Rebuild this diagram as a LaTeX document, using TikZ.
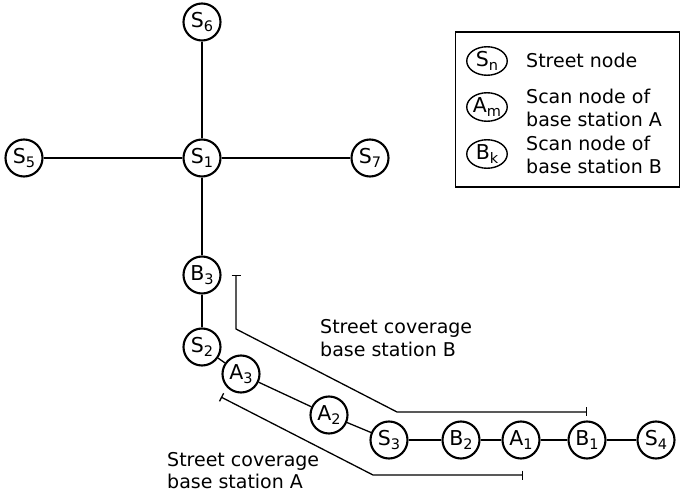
\documentclass[tikz,border=0pt]{standalone}
\usepackage{fontspec}
\setmainfont{DejaVu Sans}
\usetikzlibrary{arrows.meta,shapes.geometric}
% letter with a lowered, smaller index
\newcommand\idxlbl[2]{#1\raisebox{-4pt}{\fontsize{14.5}{14.5}\selectfont #2}}

\begin{document}
\begin{tikzpicture}[x=1pt,y=-1pt,
  stnode/.style={circle, draw, line width=2.1pt, minimum size=37pt, inner sep=0pt,
    font=\fontsize{20.5}{24}\selectfont},
  legsym/.style={ellipse, draw, line width=1.4pt, minimum width=40.5pt, minimum height=28.5pt,
    inner sep=0pt, font=\fontsize{20.5}{24}\selectfont},
  link/.style={line width=1.3pt},
  cover/.style={line width=1.3pt, {Bar[width=9pt]}-{Bar[width=9pt]}},
  % anchored at the baseline of the last line
  txt/.style={inner sep=0pt, anchor=base west, align=left,
    font=\fontsize{19}{23}\selectfont},
]
\useasboundingbox (0,0) rectangle (681,497);

% street graph
\node[stnode] (S6) at (202,22)  {\idxlbl{S}{6}};
\node[stnode] (S1) at (202,158) {\idxlbl{S}{1}};
\node[stnode] (S5) at (24,158)  {\idxlbl{S}{5}};
\node[stnode] (S7) at (370,158) {\idxlbl{S}{7}};
\node[stnode] (B3) at (202,275) {\idxlbl{B}{3}};
\node[stnode] (S2) at (202,347) {\idxlbl{S}{2}};
\node[stnode] (A3) at (241,374) {\idxlbl{A}{3}};
\node[stnode] (A2) at (329,415) {\idxlbl{A}{2}};
\node[stnode] (S3) at (389,440) {\idxlbl{S}{3}};
\node[stnode] (B2) at (461,440) {\idxlbl{B}{2}};
\node[stnode] (A1) at (521,440) {\idxlbl{A}{1}};
\node[stnode] (B1) at (587,440) {\idxlbl{B}{1}};
\node[stnode] (S4) at (656,440) {\idxlbl{S}{4}};

\draw[link] (S6) -- (S1);
\draw[link] (S5) -- (S1);
\draw[link] (S1) -- (S7);
\draw[link] (S1) -- (B3);
\draw[link] (B3) -- (S2);
\draw[link] (S2) -- (A3);
\draw[link] (A3) -- (A2);
\draw[link] (A2) -- (S3);
\draw[link] (S3) -- (B2);
\draw[link] (B2) -- (A1);
\draw[link] (A1) -- (B1);
\draw[link] (B1) -- (S4);

% coverage of base station B
\coordinate (cB0) at (236,275);
\coordinate (cB1) at (236,329);
\coordinate (cB2) at (397,412);
\coordinate (cB3) at (587,412);
\draw[cover] (cB0) -- (cB1) -- (cB2) -- (cB3);
\node[txt] (covB) at (320,356.5) {Street coverage\\base station B};

% coverage of base station A
\coordinate (cA0) at (221,397);
\coordinate (cA1) at (373,475);
\coordinate (cA2) at (523,475);
\draw[cover] (cA0) -- (cA1) -- (cA2);
\node[txt] (covA) at (167,489) {Street coverage\\base station A};

% legend
\node[draw, line width=1.3pt, minimum width=224pt, minimum height=155pt, anchor=north west,
  inner sep=0pt] (legend) at (454.5,31.5) {};
\node[legsym] (legS) at (487,61)  {\idxlbl{S}{n}};
\node[legsym] (legA) at (487,107) {\idxlbl{A}{m}};
\node[legsym] (legB) at (487,154) {\idxlbl{B}{k}};
\node[txt] (legSt) at (526,68)  {Street node};
\node[txt] (legAt) at (526,127) {Scan node of\\base station A};
\node[txt] (legBt) at (526,173.5) {Scan node of\\base station B};
\end{tikzpicture}
\end{document}
